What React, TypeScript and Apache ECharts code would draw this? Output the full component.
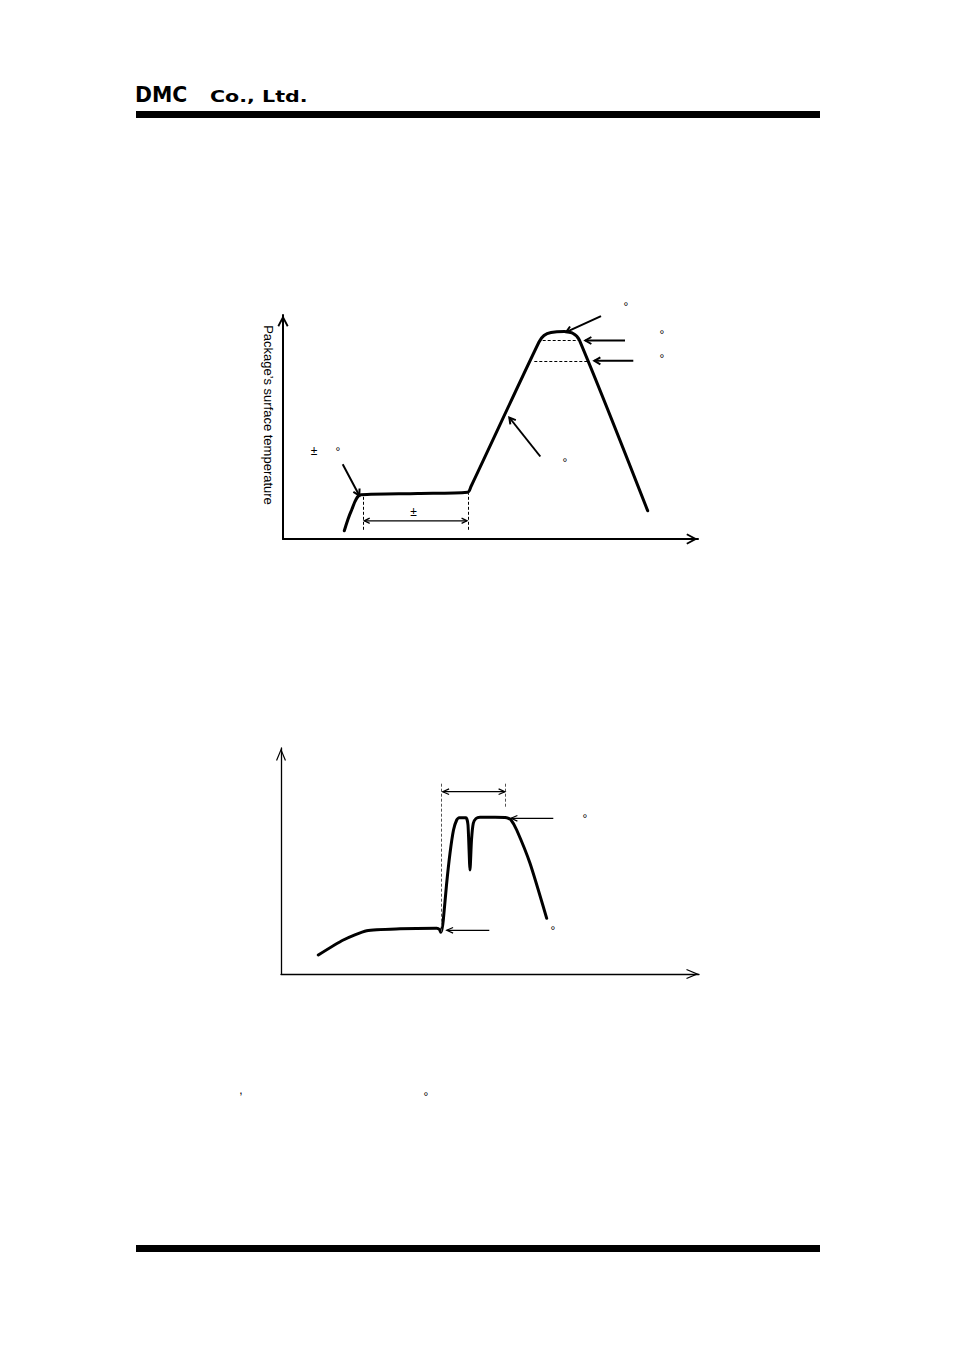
import React, { useEffect, useRef } from "react";
import * as echarts from "echarts";

// ---------- Reflow profile (upper chart): time vs package surface temperature (arbitrary units) ----------
const reflowTime = [61.3, 68, 78, 134.7, 184.7, 188, 256, 261, 268, 281.3, 289.7, 296.3, 364.7];
const reflowTemp = [8.2, 27.5, 44.2, 45.5, 46.8, 52.5, 197, 203.5, 206.5, 207.5, 205.8, 199.2, 28.2];
const reflowAxisMax = [415, 224];
// dashed guide lines [from, to]
const reflowGuides = [
  [[259.7, 198.5], [296.3, 198.5]],
  [[251.3, 178.2], [304.7, 178.2]],
  [[80.7, 9.2], [80.7, 42.5]],
  [[185, 9.2], [185, 45.8]],
];
// annotation arrows [from, to(tip)]
const reflowArrows = [
  [[59.7, 74.8], [76.3, 43.5]],
  [[257.3, 82.5], [226.3, 121.5]],
  [[318, 222.8], [283, 206.8]],
  [[342, 198.5], [302.3, 198.5]],
  [[350.3, 178.2], [311.3, 178.2]],
];
const reflowSpan = [[81.3, 18.2], [184, 18.2]];
const reflowMarks = [
  { t: "±", p: [31, 88] },
  { t: "°", p: [55, 90] },
  { t: "°", p: [282, 79] },
  { t: "°", p: [343, 235.5] },
  { t: "°", p: [379, 207] },
  { t: "°", p: [379, 183.5] },
  { t: "±", p: [130.5, 27] },
];
const reflowYName = "Package’s surface temperature";

// ---------- Flow (wave) soldering profile (lower chart) ----------
const waveTime = [37.3, 62.3, 85.7, 119, 155.7, 158.5, 159.7, 161, 162.3, 165.5, 169, 172.5, 175.7, 178.3, 185, 187, 189, 190.5, 192.3, 195, 199, 214, 225.7, 230, 235.7, 249, 265.7];
const waveTemp = [19, 34, 43.3, 45.2, 45.7, 44.5, 41.7, 45, 54, 89, 120.7, 144, 154, 156.3, 156.3, 149, 104, 134, 150.7, 155.5, 156.7, 156.7, 156.3, 154, 144, 110.7, 55.7];
const waveAxisMax = [418, 226];
const waveGuides = [
  [[160.7, 42.3], [160.7, 192.3]],
  [[224.7, 167.3], [224.7, 192.3]],
];
const waveArrows = [
  [[272.3, 155.7], [230, 155.7]],
  [[208.3, 43.7], [165.7, 43.7]],
];
const waveSpan = [[161.7, 182.3], [224, 182.3]];
const waveMarks = [
  { t: "°", p: [304, 158] },
  { t: "°", p: [272, 46] },
];

// page texts
const footMarks = [
  { t: ",", p: [241, 1093] },
  { t: "°", p: [426, 1094] },
];

const HEAD_THICK = "path://M5.5 0L11 10.4L9.4 11.3L5.5 3.9L1.6 11.3L0 10.4Z";
const HEAD_THIN = "path://M5 0L10 12L8.9 12.5L5 3.1L1.1 12.5L0 12Z";

function axes(gridIndex: number, max: number[], width: number, head: string, size: number[], off: number) {
  const common: any = {
    type: "value",
    gridIndex,
    min: 0,
    axisLine: {
      show: true,
      onZero: false,
      symbol: ["none", head],
      symbolSize: size,
      symbolOffset: [0, off],
      lineStyle: { color: "#000", width },
    },
    axisTick: { show: false },
    axisLabel: { show: false },
    splitLine: { show: false },
  };
  return { x: { ...common, max: max[0] }, y: { ...common, max: max[1] } };
}

function lineSeries(idx: number, xs: number[], ys: number[], guides: number[][][], dashColor: string, smooth: number) {
  return {
    type: "line",
    xAxisIndex: idx,
    yAxisIndex: idx,
    data: xs.map((x, i) => [x, ys[i]]),
    smooth,
    symbol: "none",
    silent: true,
    clip: false,
    lineStyle: { color: "#000", width: 3, cap: "round", join: "round" },
    markLine: {
      silent: true,
      symbol: ["none", "none"],
      label: { show: false },
      emphasis: { disabled: true },
      lineStyle: { color: dashColor, width: 1, type: [3, 2] },
      data: guides.map(([a, b]) => [{ coord: a }, { coord: b }]),
    },
  };
}

function arrowEls(a: number[], b: number[], lw: number, head: number, ang: number, both = false) {
  const els: any[] = [
    { type: "line", silent: true, z: 20, shape: { x1: a[0], y1: a[1], x2: b[0], y2: b[1] }, style: { stroke: "#000", lineWidth: lw } },
  ];
  const headAt = (tip: number[], from: number[]) => {
    const dx = from[0] - tip[0];
    const dy = from[1] - tip[1];
    const L = Math.hypot(dx, dy) || 1;
    const ux = dx / L;
    const uy = dy / L;
    const c = Math.cos(ang);
    const s = Math.sin(ang);
    const p1 = [tip[0] + head * (ux * c - uy * s), tip[1] + head * (ux * s + uy * c)];
    const p2 = [tip[0] + head * (ux * c + uy * s), tip[1] + head * (-ux * s + uy * c)];
    return {
      type: "polyline",
      silent: true,
      z: 20,
      shape: { points: [p1, tip, p2] },
      style: { stroke: "#000", lineWidth: lw, fill: null, lineJoin: "miter" },
    };
  };
  els.push(headAt(b, a));
  if (both) els.push(headAt(a, b));
  return els;
}

function markText(t: string, p: number[]) {
  const dy = t === "°" ? 3 : t === "," ? -3 : 0;
  return {
    type: "text",
    silent: true,
    z: 20,
    x: p[0],
    y: p[1] + dy,
    style: {
      text: t,
      font: '12px "Liberation Sans", Arial, sans-serif',
      fill: "#000",
      align: "center",
      verticalAlign: "middle",
      textAlign: "center",
      textVerticalAlign: "middle",
    },
  };
}

export default function App() {
  const ref = useRef<HTMLDivElement>(null);

  useEffect(() => {
    if (!ref.current) return;
    const chart = echarts.init(ref.current, null, { renderer: "svg" });
    const a1 = axes(0, reflowAxisMax, 2, HEAD_THICK, [11, 12], -6);
    const a2 = axes(1, waveAxisMax, 1.3, HEAD_THIN, [10, 13], -6.5);
    chart.setOption({
      animation: false,
      backgroundColor: "#ffffff",
      grid: [
        { left: 283, top: 315, width: 415, height: 224 },
        { left: 281, top: 748, width: 418, height: 226 },
      ],
      xAxis: [a1.x, a2.x],
      yAxis: [a1.y, a2.y],
      series: [
        lineSeries(0, reflowTime, reflowTemp, reflowGuides, "#000", 0.3),
        lineSeries(1, waveTime, waveTemp, waveGuides, "#555", 0.2),
      ],
    });

    const px = (g: number, p: number[]) => chart.convertToPixel({ gridIndex: g }, p) as number[];
    const g: any[] = [];
    // page header / footer
    g.push({ type: "rect", silent: true, shape: { x: 136, y: 111, width: 684, height: 7 }, style: { fill: "#000" } });
    g.push({ type: "rect", silent: true, shape: { x: 136, y: 1245, width: 684, height: 7 }, style: { fill: "#000" } });
    g.push({
      type: "text", silent: true, x: 135, y: 94, scaleX: 0.93,
      style: { text: "DMC", font: 'bold 22px "DejaVu Sans", sans-serif', fill: "#000", align: "left", verticalAlign: "middle", textAlign: "left", textVerticalAlign: "middle" },
    });
    g.push({
      type: "text", silent: true, x: 210, y: 96, scaleX: 1.33,
      style: { text: "Co., Ltd.", font: 'bold 15.5px "DejaVu Sans", sans-serif', fill: "#000", align: "left", verticalAlign: "middle", textAlign: "left", textVerticalAlign: "middle" },
    });
    // y-axis title of reflow chart
    const yt = px(0, [0, (reflowAxisMax[1]) / 2]);
    g.push({
      type: "text", silent: true, x: yt[0] - 14.5, y: yt[1] - 12, rotation: -Math.PI / 2,
      style: { text: reflowYName, font: '13px "Liberation Sans", Arial, sans-serif', fill: "#000", align: "center", verticalAlign: "middle", textAlign: "center", textVerticalAlign: "middle" },
    });
    reflowArrows.forEach(([a, b]) => g.push(...arrowEls(px(0, a), px(0, b), 2, 7, Math.PI / 6)));
    g.push(...arrowEls(px(0, reflowSpan[0]), px(0, reflowSpan[1]), 1.3, 6, Math.PI / 7, true));
    reflowMarks.forEach((m) => g.push(markText(m.t, px(0, m.p))));
    waveArrows.forEach(([a, b]) => g.push(...arrowEls(px(1, a), px(1, b), 1.2, 7, Math.PI / 7.5)));
    g.push(...arrowEls(px(1, waveSpan[0]), px(1, waveSpan[1]), 1.2, 7, Math.PI / 7.5, true));
    waveMarks.forEach((m) => g.push(markText(m.t, px(1, m.p))));
    footMarks.forEach((m) => g.push(markText(m.t, m.p)));
    chart.setOption({ graphic: g });

    return () => chart.dispose();
  }, []);

  return (
    <div
      ref={ref}
      style={{ position: "absolute", left: 0, top: 0, width: 954, height: 1350, background: "#fff" }}
    />
  );
}
